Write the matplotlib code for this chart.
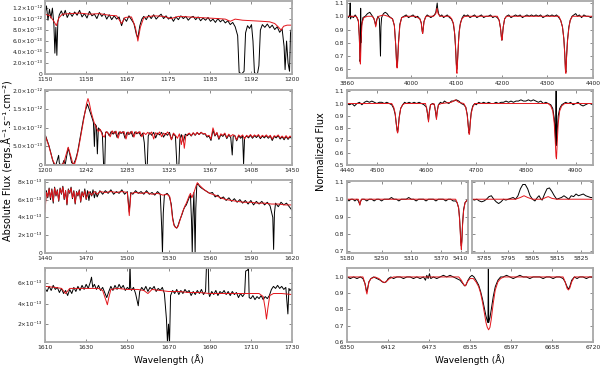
import numpy as np
import matplotlib.pyplot as plt

plt.rcParams['font.family'] = ['DejaVu Sans']

# ---- UV panels, flux in units of 1e-13 erg/s/cm2/A : (wavelength, flux) ----
uv1_obs = [(1150.0, 11.0), (1150.3, 12.4), (1150.6, 9.8), (1150.9, 11.8), (1151.2, 10.2), (1151.5, 12.0),
           (1151.8, 9.0), (1152.0, 3.8), (1152.2, 8.5), (1152.4, 3.4), (1152.6, 9.5), (1152.9, 10.8),
           (1153.3, 11.5), (1153.7, 10.6), (1154.1, 11.6), (1154.5, 10.3), (1155.0, 11.2), (1155.5, 10.5),
           (1156.0, 11.3), (1156.5, 10.7), (1157.0, 11.6), (1157.5, 10.4), (1158.0, 11.0), (1158.5, 10.2),
           (1159.0, 11.4), (1159.5, 10.6), (1160.0, 10.9), (1160.5, 10.1), (1161.0, 11.2), (1161.5, 10.5),
           (1162.0, 11.0), (1162.5, 10.0), (1163.0, 10.8), (1163.5, 9.9), (1164.0, 10.6), (1164.5, 10.0),
           (1165.0, 10.4), (1165.5, 8.8), (1166.0, 10.2), (1166.5, 9.6), (1167.0, 10.6), (1167.5, 9.9),
           (1168.0, 9.2), (1168.5, 7.2), (1168.8, 6.6), (1169.2, 8.8), (1169.6, 10.0), (1170.0, 10.5),
           (1170.5, 9.9), (1171.0, 10.7), (1171.5, 10.1), (1172.0, 10.8), (1172.5, 10.0), (1173.0, 10.5),
           (1173.5, 10.9), (1174.0, 10.1), (1174.5, 10.6), (1175.0, 10.0), (1175.5, 10.4), (1176.0, 9.6),
           (1176.5, 10.4), (1177.0, 9.9), (1177.5, 10.6), (1178.0, 10.1), (1178.5, 10.5), (1179.0, 9.8),
           (1179.5, 10.3), (1180.0, 10.5), (1180.5, 9.9), (1181.0, 10.4), (1181.5, 9.7), (1182.0, 10.2),
           (1182.5, 9.8), (1183.0, 10.3), (1183.5, 9.6), (1184.0, 10.0), (1184.5, 9.4), (1185.0, 10.1),
           (1185.5, 9.5), (1186.0, 9.9), (1186.5, 9.3), (1187.0, 9.7), (1187.5, 9.0), (1188.0, 9.4),
           (1188.5, 8.6), (1189.0, 7.0), (1189.3, 0.3), (1189.8, 0.0), (1190.3, 0.5), (1190.6, 7.5),
           (1191.0, 8.8), (1191.4, 8.3), (1191.8, 9.0), (1192.1, 6.0), (1192.4, 0.2), (1193.0, 0.0),
           (1193.3, 1.5), (1193.6, 8.0), (1194.0, 9.0), (1194.5, 8.5), (1195.0, 9.1), (1195.5, 8.4),
           (1196.0, 8.9), (1196.5, 8.1), (1197.0, 8.6), (1197.5, 7.6), (1198.0, 8.2), (1198.4, 5.0),
           (1198.6, 0.8), (1198.9, 6.0), (1199.2, 2.0), (1199.5, 0.5), (1199.7, 7.5), (1200.0, 8.6)]
uv1_mod = [(1150, 10.9), (1151, 10.6), (1151.8, 9.6), (1152.3, 8.8), (1152.8, 10.2), (1153.5, 10.9),
           (1155, 11.0), (1157, 11.1), (1159, 10.9), (1161, 11.0), (1163, 10.7), (1164.5, 10.6),
           (1165.5, 9.2), (1166.2, 10.3), (1167.5, 10.4), (1168.3, 8.5), (1168.8, 6.0), (1169.3, 8.5),
           (1170, 10.3), (1172, 10.6), (1174, 10.5), (1175.5, 10.1), (1177, 10.5), (1179, 10.4),
           (1181, 10.3), (1183, 10.2), (1185, 10.1), (1186.5, 10.0), (1187.5, 9.6), (1188.5, 10.0),
           (1190, 9.8), (1192, 9.7), (1194, 9.6), (1195.5, 9.5), (1196.5, 9.2), (1197.2, 8.6),
           (1197.8, 8.0), (1198.3, 8.7), (1199, 8.9), (1200, 8.9)]

uv2_obs = [(1200.0, 8.0), (1200.3, 0.0), (1200.7, 7.8), (1202, 6.8), (1204, 5.2), (1206, 3.2), (1207.5, 1.5),
           (1209, 0.3), (1211, 0.0), (1213, 1.8), (1213.8, 2.6), (1214.5, 0.5), (1216, 0.0), (1218, 0.3),
           (1219, 1.2), (1220.5, 0.2), (1222, 2.5), (1223.5, 4.6), (1225, 3.0), (1227, 0.6), (1229, 0.3),
           (1231, 1.5), (1233, 3.5), (1235, 6.5), (1237, 9.5), (1239, 12.5), (1241, 14.8), (1243, 16.4),
           (1244.5, 15.2), (1246, 14.0), (1247.5, 12.8), (1249, 11.5), (1250, 5.0), (1250.8, 11.0),
           (1252, 10.5), (1253, 3.0), (1254, 10.0), (1256, 9.4), (1258, 8.6), (1259.3, 0.0), (1260.5, 0.0),
           (1261.3, 8.8), (1263, 8.9), (1265, 7.9), (1267, 9.0), (1269, 8.3), (1271, 9.1), (1273, 7.4),
           (1275, 8.9), (1277, 8.5), (1279, 9.0), (1281, 7.2), (1283, 8.8), (1285, 8.2), (1287, 9.0),
           (1289, 7.6), (1291, 8.9), (1293, 8.4), (1295, 8.9), (1297, 7.8), (1299, 8.6), (1300.5, 6.0),
           (1301.8, 0.0), (1303.5, 0.0), (1304.5, 7.8), (1306, 8.7), (1308, 8.0), (1310, 8.8), (1312, 7.3),
           (1314, 8.6), (1316, 8.1), (1318, 8.8), (1320, 7.5), (1322, 8.5), (1324, 8.0), (1326, 8.8),
           (1328, 6.8), (1330, 8.4), (1332, 7.8), (1333.5, 0.0), (1335.5, 0.0), (1336.5, 7.0), (1338, 8.2),
           (1340, 6.2), (1342, 8.3), (1344, 7.9), (1346, 8.5), (1348, 7.8), (1350, 8.6), (1352, 8.0),
           (1354, 8.7), (1356, 8.2), (1358, 8.8), (1360, 8.3), (1362, 8.4), (1364, 7.5), (1366, 7.8),
           (1368, 6.6), (1370, 9.4), (1372, 7.8), (1374, 8.6), (1376, 6.9), (1378, 8.2), (1380, 7.7),
           (1382, 8.4), (1384, 7.1), (1386, 8.1), (1388, 7.4), (1389.5, 2.7), (1390.5, 7.8), (1392, 8.0),
           (1394, 6.5), (1396, 7.9), (1398, 7.2), (1400, 7.9), (1401, 0.3), (1402, 7.3), (1404, 7.8),
           (1406, 7.3), (1408, 8.0), (1410, 7.2), (1412, 7.9), (1414, 7.4), (1416, 8.0), (1418, 7.1),
           (1420, 7.8), (1422, 7.3), (1424, 7.9), (1426, 7.2), (1428, 7.8), (1430, 6.6), (1432, 7.7),
           (1434, 7.3), (1436, 7.9), (1438, 7.0), (1440, 7.6), (1442, 6.8), (1444, 7.7), (1446, 6.9),
           (1448, 7.6), (1450, 7.0)]
uv2_mod = [(1200, 8.0), (1202, 6.6), (1204, 5.0), (1206, 3.0), (1208, 1.2), (1210, 0.2), (1212, 0.0),
           (1216, 0.0), (1219, 0.5), (1221, 2.5), (1223.5, 4.8), (1226, 2.5), (1228, 0.5), (1230, 0.3),
           (1232, 2.0), (1234, 4.5), (1236, 7.5), (1238, 10.5), (1240, 13.5), (1242, 16.5), (1243.5, 17.9),
           (1245, 16.5), (1246.5, 14.5), (1248, 13.0), (1250, 11.2), (1252, 10.0), (1254, 9.0), (1256, 9.6),
           (1258, 8.0), (1260, 7.5), (1262, 9.0), (1264, 8.6), (1266, 7.6), (1268, 9.2), (1270, 8.5),
           (1272, 9.1), (1274, 7.2), (1276, 9.0), (1278, 8.6), (1280, 9.0), (1282, 7.0), (1284, 8.9),
           (1286, 8.4), (1288, 9.1), (1290, 7.5), (1292, 9.0), (1294, 8.5), (1296, 9.0), (1298, 7.6),
           (1300, 8.7), (1302, 8.2), (1304, 8.8), (1306, 8.3), (1308, 8.9), (1310, 7.0), (1312, 8.7),
           (1314, 8.2), (1316, 8.9), (1318, 7.6), (1320, 8.6), (1322, 8.1), (1324, 8.9), (1326, 8.3),
           (1328, 6.8), (1330, 8.6), (1332, 8.0), (1334, 7.2), (1336, 8.4), (1338, 5.5), (1339.5, 8.0),
           (1341, 4.5), (1342.5, 7.8), (1344, 8.2), (1346, 8.6), (1348, 7.9), (1350, 8.7), (1352, 8.1),
           (1354, 8.8), (1356, 8.2), (1358, 8.8), (1360, 8.4), (1362, 8.5), (1364, 7.8), (1366, 8.0),
           (1368, 7.0), (1370, 10.0), (1371, 9.2), (1372, 8.0), (1374, 8.8), (1376, 7.2), (1378, 8.4),
           (1380, 8.0), (1382, 8.6), (1384, 7.4), (1386, 8.3), (1388, 7.7), (1390, 8.2), (1392, 7.9),
           (1394, 6.8), (1396, 8.1), (1398, 7.6), (1400, 8.1), (1402, 7.0), (1404, 8.0), (1406, 7.6),
           (1408, 8.2), (1410, 7.5), (1412, 8.1), (1414, 7.7), (1416, 8.2), (1418, 7.4), (1420, 8.0),
           (1422, 7.6), (1424, 8.1), (1426, 7.5), (1428, 8.0), (1430, 7.0), (1432, 7.9), (1434, 7.6),
           (1436, 8.1), (1438, 7.3), (1440, 7.8), (1442, 7.2), (1444, 7.9), (1446, 7.2), (1448, 7.8),
           (1450, 7.4)]

uv3_obs = [(1440, 5.0), (1441, 7.0), (1442, 6.2), (1443, 7.3), (1444, 6.0), (1445, 7.2), (1446, 5.6),
           (1447, 7.4), (1448, 6.4), (1449, 7.1), (1450, 5.8), (1451, 7.3), (1452, 6.6), (1453, 7.5),
           (1454, 6.0), (1455, 7.0), (1456, 5.4), (1457, 7.2), (1458, 6.7), (1459, 7.4), (1460, 6.1),
           (1461, 7.0), (1462, 5.5), (1463, 6.9), (1464, 6.4), (1465, 7.1), (1466, 5.7), (1467, 6.9),
           (1468, 6.3), (1469, 7.2), (1470, 6.0), (1471, 7.0), (1472, 5.9), (1473, 6.9), (1474, 6.4),
           (1475, 7.1), (1476, 6.2), (1477, 6.9), (1478, 6.3), (1480, 7.0), (1482, 6.6), (1484, 7.0),
           (1486, 6.7), (1488, 7.1), (1490, 6.6), (1492, 6.9), (1494, 6.7), (1496, 7.1), (1498, 6.6),
           (1500, 6.9), (1501.4, 4.6), (1502.5, 6.8), (1504, 6.6), (1506, 7.0), (1508, 6.7), (1510, 6.9),
           (1512, 6.6), (1514, 7.0), (1516, 6.6), (1518, 6.8), (1520, 6.5), (1522, 6.9), (1524, 6.6),
           (1525, 3.0), (1525.6, 0.0), (1526.2, 4.5), (1527, 6.5), (1529, 6.7), (1530.5, 6.4), (1532, 5.5),
           (1533, 4.0), (1534, 3.2), (1535, 2.9), (1536, 2.8), (1537, 3.1), (1538, 3.6), (1539, 4.0),
           (1540, 4.4), (1541, 4.9), (1542, 5.2), (1543, 5.4), (1544, 5.8), (1545, 6.2), (1546, 6.5),
           (1546.8, 3.5), (1547.3, 0.0), (1547.8, 4.0), (1548.5, 6.8), (1549, 3.0), (1549.4, 0.0),
           (1549.9, 5.0), (1550.6, 7.6), (1551.5, 7.8), (1552.5, 7.5), (1554, 7.3), (1556, 7.1),
           (1558, 6.9), (1560, 6.7), (1562, 6.8), (1564, 6.3), (1566, 6.5), (1568, 6.1), (1570, 6.3),
           (1572, 5.9), (1574, 6.2), (1576, 5.8), (1578, 6.1), (1580, 5.7), (1582, 6.0), (1584, 5.6),
           (1586, 5.9), (1588, 5.5), (1590, 5.9), (1592, 5.4), (1594, 5.8), (1596, 5.5), (1598, 5.8),
           (1600, 5.4), (1602, 5.7), (1604, 5.3), (1606, 4.0), (1606.6, 0.4), (1607.2, 4.5), (1608, 5.6),
           (1610, 5.2), (1612, 5.7), (1614, 5.4), (1616, 5.6), (1618, 5.2), (1620, 4.8)]
uv3_mod = [(1440, 4.6), (1441, 6.8), (1442, 6.3), (1443, 7.2), (1444, 6.2), (1445, 7.1), (1446, 5.8),
           (1447, 7.3), (1448, 6.5), (1449, 7.0), (1450, 5.9), (1451, 7.2), (1452, 6.7), (1453, 7.4),
           (1454, 6.1), (1455, 7.0), (1456, 5.5), (1457, 7.1), (1458, 6.8), (1459, 7.3), (1460, 6.2),
           (1461, 6.9), (1462, 5.6), (1463, 6.8), (1464, 6.5), (1465, 7.0), (1466, 5.8), (1467, 6.8),
           (1468, 6.4), (1469, 7.0), (1470, 6.1), (1472, 6.9), (1474, 6.5), (1476, 6.9), (1478, 6.6),
           (1480, 6.9), (1484, 6.8), (1488, 6.9), (1492, 6.8), (1496, 6.9), (1500, 6.8), (1501.4, 4.2),
           (1502.6, 6.7), (1506, 6.8), (1510, 6.7), (1514, 6.8), (1518, 6.6), (1522, 6.7), (1526, 6.5),
           (1529, 6.6), (1531, 6.3), (1532, 5.2), (1533, 3.8), (1534, 3.1), (1535, 2.9), (1536, 2.8),
           (1537, 3.0), (1538, 3.5), (1539, 4.0), (1540, 4.5), (1541, 4.9), (1542, 5.3), (1543, 5.6),
           (1544, 6.0), (1545, 6.4), (1546, 6.7), (1547, 6.2), (1548, 6.6), (1549, 7.0), (1550, 7.5),
           (1551, 7.9), (1552, 7.7), (1554, 7.4), (1556, 7.1), (1558, 6.9), (1560, 6.7), (1564, 6.5),
           (1568, 6.2), (1572, 6.0), (1576, 5.9), (1580, 5.8), (1585, 5.7), (1590, 5.7), (1595, 5.6),
           (1600, 5.6), (1605, 5.5), (1610, 5.5), (1615, 5.4), (1620, 5.4)]

uv4_obs = [(1610, 5.5), (1611, 5.2), (1612, 5.7), (1613, 5.3), (1614, 5.8), (1615, 5.4), (1616, 5.6),
           (1617, 5.1), (1618, 5.5), (1619, 5.0), (1620, 5.3), (1621, 4.8), (1622, 5.4), (1623, 5.0),
           (1624, 5.6), (1625, 5.2), (1626, 5.7), (1627, 5.3), (1628, 5.8), (1629, 5.4), (1630, 5.9),
           (1631, 5.5), (1632, 6.1), (1632.6, 6.6), (1633.2, 5.6), (1634, 5.9), (1635, 5.4), (1636, 5.8),
           (1637, 5.3), (1638, 5.6), (1639, 5.1), (1640, 4.6), (1641, 5.2), (1642, 5.7), (1643, 5.3),
           (1644, 5.8), (1645, 5.4), (1646, 5.9), (1647, 5.5), (1648, 5.8), (1649, 5.3), (1650, 5.6),
           (1651, 5.4), (1651.3, 8.0), (1651.6, 5.6), (1652, 5.3), (1653, 5.6), (1654, 5.0), (1655.3, 3.8),
           (1656, 5.2), (1657, 5.6), (1658, 5.3), (1659, 5.7), (1660, 5.2), (1661, 5.6), (1662, 5.4),
           (1663, 5.7), (1664, 5.2), (1665, 5.5), (1666, 5.3), (1667, 5.6), (1668, 5.0), (1669, 2.5),
           (1669.5, 0.2), (1670, 2.0), (1670.5, 0.2), (1671, 4.8), (1672, 5.3), (1673, 5.0), (1674, 5.4),
           (1675, 4.9), (1676, 5.3), (1677, 5.0), (1678, 5.4), (1679, 5.1), (1680, 5.3), (1681, 4.8),
           (1682, 5.2), (1683, 4.9), (1684, 5.3), (1685, 5.0), (1686, 5.4), (1687, 4.9), (1688, 5.2),
           (1688.5, 8.0), (1689.3, 8.0), (1689.6, 5.0), (1690, 4.7), (1691, 5.2), (1692, 4.9), (1693, 5.3),
           (1694, 4.8), (1695, 5.2), (1696, 5.0), (1697, 5.3), (1698, 4.9), (1699, 5.2), (1700, 4.8),
           (1701, 5.2), (1702, 4.9), (1703, 5.1), (1704, 4.6), (1705, 5.0), (1706, 4.7), (1707, 5.0),
           (1707.5, 7.2), (1708.5, 7.3), (1708.8, 8.0), (1709.2, 4.6), (1710, 4.5), (1711, 4.8),
           (1712, 4.4), (1713, 4.7), (1714, 4.5), (1715, 4.8), (1716, 4.4), (1717, 4.7), (1718, 4.5),
           (1719, 4.8), (1720, 5.4), (1721, 5.7), (1722, 5.5), (1723, 5.8), (1724, 5.5), (1725, 5.7),
           (1726, 5.4), (1727, 5.6), (1728, 3.0), (1728.5, 5.5), (1729, 5.3), (1730, 5.5)]
uv4_mod = [(1610, 5.7), (1615, 5.6), (1618, 5.5), (1620, 5.0), (1622, 5.5), (1625, 5.5), (1630, 5.5),
           (1636, 5.5), (1638, 5.3), (1639.5, 4.4), (1640.3, 3.9), (1641, 4.6), (1642, 5.4), (1645, 5.5),
           (1650, 5.4), (1655, 5.4), (1658, 5.3), (1660, 5.0), (1662, 5.4), (1666, 5.3), (1670, 5.2),
           (1675, 5.2), (1680, 5.1), (1685, 5.1), (1690, 5.0), (1695, 5.0), (1700, 5.0), (1705, 5.0),
           (1710, 5.0), (1714, 5.0), (1716, 4.7), (1717, 3.5), (1717.6, 2.5), (1718.3, 3.6), (1719.2, 4.8),
           (1721, 5.0), (1725, 5.0), (1730, 4.9)]

# ---- optical panels, normalized flux ----
op1_obs = [(3860, 1.00), (3863, 0.99), (3866, 1.01), (3867, 1.10), (3867.5, 0.98), (3870, 1.00), (3874, 0.99),
           (3878, 1.01), (3882, 0.99), (3885, 0.96), (3887, 0.85), (3888.5, 0.66), (3889.5, 0.68),
           (3890, 1.06), (3890.5, 0.80), (3892, 0.93), (3895, 0.99), (3900, 1.00), (3905, 1.02),
           (3910, 1.03), (3914, 1.01), (3918, 0.99), (3921, 0.96), (3923, 0.93), (3925, 0.97), (3928, 1.00),
           (3931, 0.98), (3932.5, 0.80), (3933.5, 0.70), (3934.5, 0.92), (3936, 0.99), (3940, 1.02),
           (3944, 1.03), (3948, 1.02), (3952, 1.00), (3956, 0.99), (3960, 0.98), (3964, 0.93), (3967, 0.78),
           (3969, 0.64), (3970, 0.62), (3971, 0.66), (3973, 0.80), (3976, 0.94), (3980, 0.99), (3985, 1.00),
           (3990, 1.01), (3995, 0.99), (4000, 1.00), (4005, 1.01), (4010, 0.99), (4015, 1.00), (4020, 0.98),
           (4023, 0.95), (4025, 0.89), (4026, 0.87), (4027, 0.90), (4029, 0.96), (4032, 0.99), (4036, 1.01),
           (4040, 1.00), (4044, 0.99), (4048, 1.00), (4052, 1.01), (4055, 1.03), (4057, 1.08), (4058, 1.10),
           (4059, 1.06), (4061, 1.02), (4064, 1.00), (4068, 1.01), (4072, 0.99), (4076, 1.00), (4080, 1.01),
           (4085, 0.99), (4089, 0.98), (4093, 0.95), (4096, 0.88), (4098, 0.78), (4100, 0.64), (4101, 0.60),
           (4102, 0.63), (4104, 0.76), (4106, 0.88), (4109, 0.95), (4113, 0.99), (4117, 1.01), (4121, 1.00),
           (4125, 1.01), (4130, 0.99), (4135, 1.00), (4140, 1.01), (4145, 0.99), (4150, 1.00), (4155, 1.01),
           (4160, 0.99), (4165, 1.00), (4170, 1.00), (4175, 1.01), (4180, 0.99), (4185, 1.00), (4190, 0.99),
           (4194, 0.97), (4197, 0.91), (4199, 0.84), (4200, 0.82), (4201, 0.85), (4203, 0.92), (4206, 0.98),
           (4210, 1.00), (4215, 1.01), (4220, 0.99), (4225, 1.00), (4230, 1.01), (4235, 1.00), (4240, 1.01),
           (4245, 0.99), (4250, 1.00), (4255, 1.01), (4260, 1.00), (4265, 1.01), (4270, 1.00), (4275, 1.01),
           (4280, 1.00), (4285, 1.01), (4290, 0.99), (4295, 1.00), (4300, 1.01), (4305, 1.00), (4310, 1.01),
           (4315, 1.00), (4320, 1.01), (4325, 0.99), (4329, 0.97), (4333, 0.92), (4336, 0.83), (4338, 0.72),
           (4339.5, 0.60), (4340.5, 0.58), (4342, 0.70), (4344, 0.82), (4347, 0.92), (4350, 0.97),
           (4354, 1.00), (4358, 1.01), (4362, 1.02), (4366, 1.00), (4370, 1.01), (4375, 0.99), (4380, 1.01),
           (4385, 1.00), (4390, 1.00), (4395, 0.99), (4400, 1.00)]
op1_mod = [(3860, 1.00), (3880, 1.00), (3885, 0.97), (3887, 0.85), (3888.5, 0.66), (3889.5, 0.64),
           (3891, 0.82), (3893, 0.95), (3897, 0.99), (3905, 1.00), (3915, 1.00), (3920, 0.98), (3923, 0.92),
           (3926, 0.98), (3930, 1.00), (3940, 1.01), (3950, 1.00), (3960, 0.98), (3964, 0.93), (3967, 0.78),
           (3969, 0.63), (3970, 0.61), (3971, 0.64), (3973, 0.79), (3976, 0.93), (3980, 0.99), (3990, 1.00),
           (4010, 1.00), (4020, 0.98), (4023, 0.95), (4025, 0.89), (4026, 0.87), (4027, 0.89), (4029, 0.96),
           (4033, 1.00), (4050, 1.00), (4055, 1.02), (4057.5, 1.06), (4060, 1.02), (4064, 1.00), (4085, 1.00),
           (4090, 0.98), (4094, 0.94), (4097, 0.85), (4099, 0.72), (4100.5, 0.58), (4101.5, 0.57),
           (4103, 0.68), (4105, 0.82), (4108, 0.93), (4112, 0.98), (4118, 1.00), (4190, 1.00), (4194, 0.97),
           (4197, 0.91), (4199, 0.84), (4200, 0.82), (4201, 0.84), (4203, 0.92), (4206, 0.98), (4210, 1.00),
           (4325, 1.00), (4329, 0.97), (4333, 0.92), (4336, 0.83), (4338, 0.71), (4339.5, 0.59),
           (4340.5, 0.57), (4342, 0.69), (4344, 0.81), (4347, 0.91), (4350, 0.97), (4355, 1.00), (4400, 1.00)]

op2_obs = [(4440, 1.00), (4445, 0.99), (4450, 1.00), (4455, 0.98), (4460, 1.00), (4465, 1.01), (4470, 0.99),
           (4475, 1.01), (4480, 1.02), (4485, 1.01), (4490, 1.02), (4495, 1.01), (4500, 1.00), (4505, 1.01),
           (4510, 1.01), (4515, 1.00), (4520, 1.01), (4525, 1.00), (4530, 0.99), (4534, 0.96), (4537, 0.91),
           (4539, 0.84), (4541, 0.78), (4542, 0.77), (4543, 0.80), (4545, 0.89), (4548, 0.96), (4552, 0.99),
           (4556, 1.01), (4560, 1.00), (4565, 1.01), (4570, 1.00), (4575, 1.01), (4580, 1.00), (4585, 1.01),
           (4590, 1.00), (4595, 0.99), (4600, 0.97), (4602.5, 0.90), (4604, 0.86), (4605.5, 0.93),
           (4608, 0.99), (4612, 1.00), (4616, 0.99), (4618.5, 0.92), (4620, 0.88), (4621.5, 0.94),
           (4624, 0.99), (4628, 1.01), (4632, 1.00), (4636, 1.02), (4640, 1.01), (4645, 1.00), (4650, 1.02),
           (4655, 1.02), (4660, 1.03), (4665, 1.02), (4670, 1.00), (4675, 0.99), (4679, 0.97), (4682, 0.91),
           (4684, 0.82), (4685.5, 0.76), (4686.5, 0.77), (4688, 0.85), (4690, 0.93), (4693, 0.98),
           (4697, 1.00), (4700, 0.99), (4705, 1.01), (4710, 1.00), (4715, 1.01), (4720, 1.00), (4725, 1.01),
           (4730, 1.00), (4735, 1.00), (4740, 1.01), (4745, 1.00), (4750, 1.01), (4755, 1.01), (4760, 1.02),
           (4765, 1.01), (4770, 1.02), (4775, 1.01), (4780, 1.02), (4785, 1.02), (4790, 1.03), (4795, 1.02),
           (4800, 1.02), (4805, 1.03), (4810, 1.02), (4815, 1.03), (4820, 1.02), (4825, 1.01), (4830, 1.02),
           (4835, 1.00), (4840, 1.01), (4845, 1.00), (4850, 0.99), (4854, 0.96), (4857, 0.88), (4859, 0.76),
           (4860, 0.67), (4860.8, 1.12), (4861.3, 0.66), (4863, 0.78), (4865, 0.90), (4868, 0.96),
           (4872, 0.99), (4876, 1.00), (4880, 1.01), (4885, 1.00), (4890, 1.01), (4895, 0.99), (4900, 1.00),
           (4905, 1.01), (4910, 0.99), (4915, 0.98), (4920, 0.99), (4925, 1.00), (4930, 1.00), (4935, 0.99)]
op2_mod = [(4440, 1.00), (4530, 1.00), (4534, 0.97), (4537, 0.92), (4539, 0.84), (4541, 0.77), (4542, 0.76),
           (4543, 0.79), (4545, 0.88), (4548, 0.96), (4552, 0.99), (4556, 1.00), (4598, 1.00),
           (4602.5, 0.91), (4604, 0.85), (4605.5, 0.92), (4608, 0.99), (4615, 1.00), (4618.5, 0.93),
           (4620, 0.87), (4621.5, 0.93), (4624, 0.99), (4630, 1.00), (4650, 1.01), (4658, 1.03), (4665, 1.01),
           (4675, 1.00), (4679, 0.97), (4682, 0.90), (4684, 0.81), (4685.5, 0.75), (4686.5, 0.75),
           (4688, 0.84), (4690, 0.92), (4693, 0.97), (4697, 1.00), (4845, 1.00), (4850, 0.98), (4854, 0.94),
           (4857, 0.84), (4859, 0.70), (4860.5, 0.57), (4861.5, 0.55), (4863, 0.68), (4865, 0.84),
           (4868, 0.94), (4872, 0.98), (4878, 1.00), (4935, 1.00)]

op3a_obs = [(5180, 1.00), (5184, 0.99), (5188, 1.00), (5192, 1.00), (5196, 0.99), (5200, 1.00), (5203, 0.99),
            (5205, 0.975), (5206, 0.97), (5207, 0.985), (5210, 1.00), (5215, 1.00), (5220, 0.99),
            (5225, 1.00), (5230, 1.00), (5235, 0.99), (5240, 1.00), (5245, 1.00), (5250, 0.99), (5255, 1.00),
            (5260, 1.00), (5265, 1.00), (5270, 1.01), (5275, 1.00), (5280, 1.00), (5285, 0.99), (5290, 1.00),
            (5295, 1.00), (5300, 1.00), (5305, 1.01), (5310, 1.00), (5315, 1.00), (5320, 0.99), (5325, 1.00),
            (5330, 1.00), (5335, 1.00), (5340, 0.99), (5345, 1.00), (5350, 1.00), (5355, 1.00), (5360, 0.99),
            (5365, 1.00), (5370, 1.00), (5375, 1.00), (5380, 0.99), (5385, 1.00), (5390, 1.00), (5395, 0.99),
            (5400, 0.99), (5403, 0.98), (5406, 0.95), (5408, 0.89), (5409.5, 0.81), (5410.5, 0.75),
            (5411.5, 0.73), (5412.5, 0.76), (5414, 0.86), (5416, 0.94), (5419, 0.98), (5422, 0.99),
            (5425, 1.00)]
op3a_mod = [(5180, 1.00), (5203, 1.00), (5205, 0.98), (5206, 0.965), (5207, 0.98), (5209, 1.00),
            (5400, 1.00), (5403, 0.98), (5406, 0.95), (5408, 0.88), (5409.5, 0.80), (5410.5, 0.74),
            (5411.5, 0.71), (5412.5, 0.75), (5414, 0.85), (5416, 0.93), (5419, 0.98), (5422, 0.99),
            (5425, 1.00)]

op3b_obs = [(5780, 1.00), (5781, 0.995), (5782, 1.00), (5783, 0.99), (5784, 0.985), (5785, 0.99),
            (5786, 1.00), (5787, 1.015), (5788, 1.02), (5789, 1.00), (5790, 0.985), (5791, 0.975),
            (5792, 0.985), (5793, 1.00), (5794, 0.995), (5795, 1.00), (5796, 1.005), (5797, 1.01),
            (5798, 1.00), (5799, 1.02), (5800, 1.06), (5801, 1.085), (5802, 1.085), (5803, 1.06),
            (5804, 1.02), (5805, 1.00), (5806, 0.99), (5807, 1.01), (5807.7, 1.02), (5808.5, 1.00),
            (5809, 0.995), (5810, 1.03), (5811, 1.06), (5812, 1.065), (5813, 1.045), (5814, 1.02),
            (5815, 1.00), (5816, 1.005), (5817, 1.01), (5818, 1.02), (5819, 1.01), (5820, 1.00),
            (5821, 1.02), (5822, 1.015), (5823, 1.03), (5824, 1.02), (5825, 1.025), (5826, 1.03),
            (5827, 1.02), (5828, 1.015), (5829, 1.01), (5830, 1.01)]
op3b_mod = [(5780, 1.00), (5798, 1.00), (5800, 1.01), (5801.5, 1.02), (5803, 1.01), (5805, 1.00),
            (5809, 1.00), (5810.5, 1.01), (5811.5, 1.015), (5813, 1.005), (5815, 1.00), (5830, 1.00)]

op4_obs = [(6350, 1.00), (6355, 0.99), (6360, 1.00), (6365, 0.99), (6370, 1.00), (6374, 0.99), (6377, 0.96),
           (6379, 0.92), (6380, 0.91), (6381, 0.93), (6383, 0.97), (6386, 0.99), (6390, 1.00), (6395, 0.99),
           (6400, 0.98), (6403, 0.97), (6406, 0.965), (6409, 0.97), (6412, 0.99), (6416, 1.00), (6420, 0.99),
           (6425, 1.00), (6430, 1.00), (6435, 0.99), (6440, 1.00), (6445, 1.00), (6450, 0.99), (6455, 1.00),
           (6460, 0.99), (6465, 1.00), (6468, 0.98), (6470, 1.01), (6472, 0.99), (6474, 1.02), (6476, 0.99),
           (6480, 1.00), (6485, 0.99), (6490, 1.00), (6495, 1.01), (6500, 1.00), (6505, 1.01), (6510, 1.00),
           (6515, 0.99), (6520, 0.98), (6524, 0.96), (6527, 0.945), (6529, 0.95), (6532, 0.98), (6535, 1.00),
           (6538, 1.01), (6541, 1.00), (6544, 0.98), (6548, 0.95), (6551, 0.91), (6554, 0.86), (6557, 0.80),
           (6559, 0.76), (6561, 0.73), (6562, 0.72), (6562.6, 1.07), (6563.2, 0.72), (6565, 0.75),
           (6567, 0.80), (6570, 0.88), (6573, 0.94), (6577, 0.98), (6581, 1.00), (6585, 1.00), (6590, 1.01),
           (6595, 1.00), (6600, 0.99), (6605, 1.00), (6610, 1.01), (6615, 1.00), (6620, 1.00), (6625, 0.99),
           (6630, 1.00), (6635, 1.00), (6640, 1.00), (6645, 0.99), (6650, 1.00), (6655, 1.00), (6660, 0.99),
           (6665, 1.00), (6670, 1.00), (6675, 0.99), (6678, 0.97), (6681, 0.94), (6683, 0.925), (6685, 0.94),
           (6688, 0.98), (6692, 1.00), (6696, 0.99), (6700, 1.00), (6705, 1.00), (6710, 0.99), (6715, 1.00),
           (6720, 1.00)]
op4_mod = [(6350, 1.00), (6374, 1.00), (6377, 0.96), (6379, 0.91), (6380, 0.895), (6381, 0.92), (6383, 0.97),
           (6386, 0.99), (6392, 1.00), (6398, 0.99), (6402, 0.975), (6406, 0.965), (6410, 0.975),
           (6414, 0.99), (6420, 1.00), (6518, 1.00), (6522, 0.98), (6526, 0.95), (6528, 0.945), (6531, 0.97),
           (6535, 0.99), (6540, 0.99), (6544, 0.97), (6548, 0.94), (6551, 0.90), (6554, 0.84), (6557, 0.77),
           (6559, 0.72), (6561, 0.69), (6563, 0.675), (6565, 0.69), (6567, 0.74), (6570, 0.84), (6573, 0.92),
           (6577, 0.97), (6581, 0.99), (6586, 1.00), (6675, 1.00), (6678, 0.97), (6681, 0.93), (6683, 0.92),
           (6685, 0.93), (6688, 0.97), (6692, 1.00), (6720, 1.00)]

# tick labels
uv1_xlabels = ['1150', '1158', '1167', '1175', '1183', '1192', '1200']
uv2_xlabels = ['1200', '1242', '1283', '1325', '1367', '1408', '1450']
uv3_xlabels = ['1440', '1470', '1500', '1530', '1560', '1590', '1620']
uv4_xlabels = ['1610', '1630', '1650', '1670', '1690', '1710', '1730']
op4_xlabels = ['6350', '6412', '6473', '6535', '6597', '6658', '6720']

uv1_yticks = [0, 2, 4, 6, 8, 10, 12]
uv1_ylabels = ['0', '2.0×10⁻¹³', '4.0×10⁻¹³', '6.0×10⁻¹³', '8.0×10⁻¹³', '1.0×10⁻¹²', '1.2×10⁻¹²']
uv2_yticks = [0, 5, 10, 15, 20]
uv2_ylabels = ['0', '5.0×10⁻¹³', '1.0×10⁻¹²', '1.5×10⁻¹²', '2.0×10⁻¹²']
uv3_yticks = [0, 2, 4, 6, 8]
uv3_ylabels = ['0', '2×10⁻¹³', '4×10⁻¹³', '6×10⁻¹³', '8×10⁻¹³']
uv4_yticks = [2, 4, 6]
uv4_ylabels = ['2×10⁻¹³', '4×10⁻¹³', '6×10⁻¹³']

FRAME = '#a8a8a8'
RED = '#e3151b'
W, H = 600.0, 365.0


def box(left, top, right, bottom):
    # pixel box -> figure fraction
    return [left / W, 1 - bottom / H, (right - left) / W, (bottom - top) / H]


def panel(fig, rect, obs, mod, xlim, ylim):
    ax = fig.add_axes(rect)
    w, f = zip(*obs)
    ax.plot(w, f, color='black', lw=0.7)
    w, f = zip(*mod)
    ax.plot(w, f, color=RED, lw=0.7)
    ax.set_xlim(*xlim)
    ax.set_ylim(*ylim)
    for sp in ax.spines.values():
        sp.set_color(FRAME)
        sp.set_linewidth(1.3)
    ax.tick_params(direction='in', length=2.5, width=0.6, color='#777777', labelsize=4.3,
                   labelcolor='#222222', top=True, right=True, pad=2)
    return ax


fig = plt.figure(figsize=(6, 3.65), dpi=100)

ax = panel(fig, box(45, 1, 292, 74), uv1_obs, uv1_mod, (1150, 1200), (0, 13.3))
ax.set_xticks(np.linspace(1150, 1200, 7), uv1_xlabels)
ax.set_yticks(uv1_yticks, uv1_ylabels)

ax = panel(fig, box(45, 90, 292, 165), uv2_obs, uv2_mod, (1200, 1450), (0, 20.2))
ax.set_xticks(np.linspace(1200, 1450, 7), uv2_xlabels)
ax.set_yticks(uv2_yticks, uv2_ylabels)

ax = panel(fig, box(45, 180, 292, 253), uv3_obs, uv3_mod, (1440, 1620), (0, 8.2))
ax.set_xticks(np.linspace(1440, 1620, 7), uv3_xlabels)
ax.set_yticks(uv3_yticks, uv3_ylabels)

ax = panel(fig, box(45, 268, 292, 342), uv4_obs, uv4_mod, (1610, 1730), (0.25, 7.5))
ax.set_xticks(np.linspace(1610, 1730, 7), uv4_xlabels)
ax.set_yticks(uv4_yticks, uv4_ylabels)
ax.set_xlabel('Wavelength (Å)', fontsize=6.5, labelpad=3)

ax = panel(fig, box(347, 1, 593, 78), op1_obs, op1_mod, (3860, 4400), (0.535, 1.115))
ax.set_xticks([3860, 4000, 4100, 4200, 4300, 4400])
ax.set_yticks([0.6, 0.7, 0.8, 0.9, 1.0, 1.1])

ax = panel(fig, box(347, 90, 593, 165), op2_obs, op2_mod, (4440, 4935), (0.5, 1.11))
ax.set_xticks([4440, 4500, 4600, 4700, 4800, 4900])
ax.set_yticks([0.5, 0.6, 0.7, 0.8, 0.9, 1.0, 1.1])

ax = panel(fig, box(347, 181, 468, 253), op3a_obs, op3a_mod, (5180, 5425), (0.69, 1.105))
ax.set_xticks([5180, 5250, 5310, 5370, 5410])
ax.set_yticks([0.7, 0.8, 0.9, 1.0, 1.1])

ax = panel(fig, box(472, 181, 593, 253), op3b_obs, op3b_mod, (5780, 5830), (0.69, 1.105))
ax.set_xticks([5785, 5795, 5805, 5815, 5825])
ax.set_yticks([0.7, 0.8, 0.9, 1.0, 1.1], [])

ax = panel(fig, box(347, 268, 593, 342), op4_obs, op4_mod, (6350, 6720), (0.6, 1.055))
ax.set_xticks(np.linspace(6350, 6720, 7), op4_xlabels)
ax.set_yticks([0.6, 0.7, 0.8, 0.9, 1.0])
ax.set_xlabel('Wavelength (Å)', fontsize=6.5, labelpad=3)

fig.text(0.011, 0.56, 'Absolute Flux (ergs.Å⁻¹.s⁻¹.cm⁻²)', rotation=90,
         ha='center', va='center', fontsize=7)
fig.text(0.535, 0.585, 'Normalized Flux', rotation=90, ha='center', va='center', fontsize=7)

fig.savefig('out.png', dpi=100)
